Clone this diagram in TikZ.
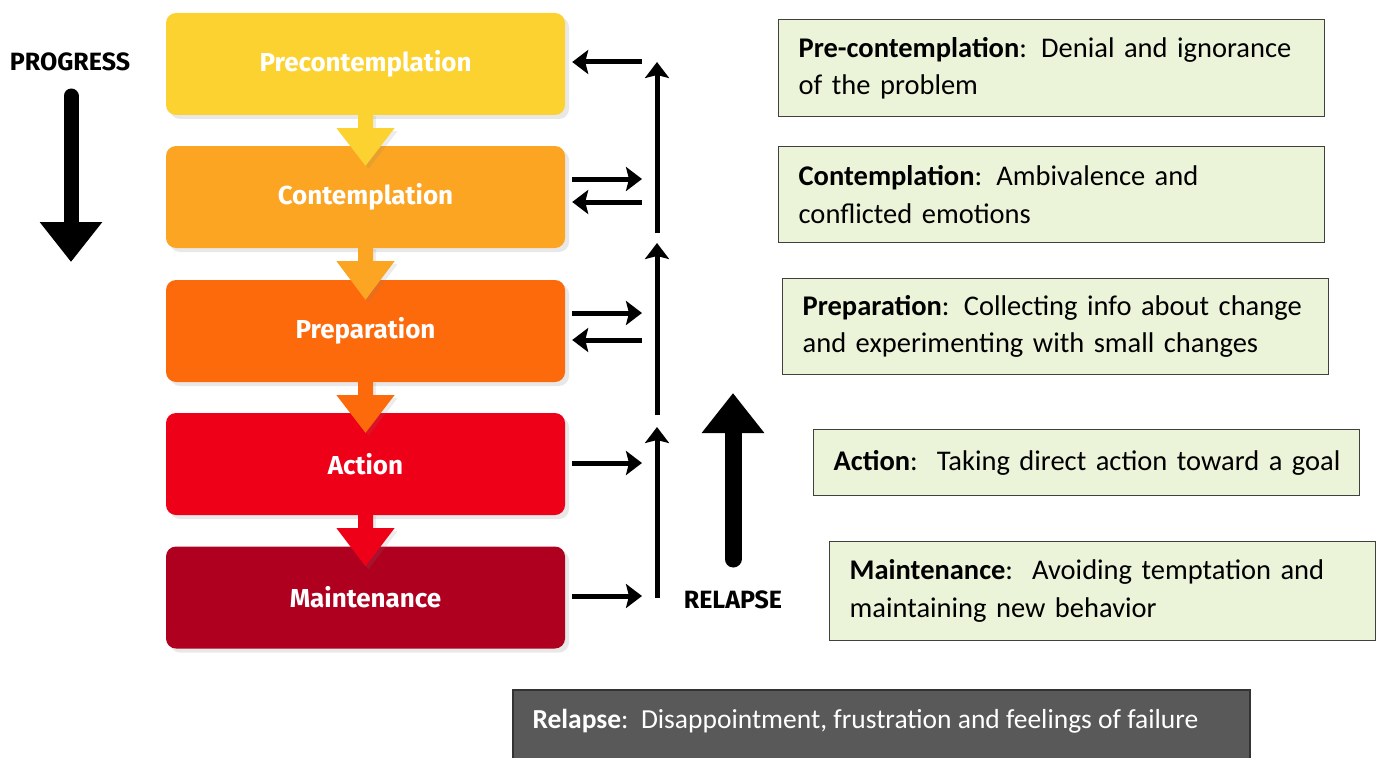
\documentclass[tikz,border=0pt]{standalone}
\usepackage{fontspec}
\setmainfont{Carlito}
\newfontfamily\stagefont{Fira Sans}
\usetikzlibrary{arrows.meta, shadows}
\definecolor{precol}{RGB}{252,210,48}
\definecolor{concol}{RGB}{251,165,35}
\definecolor{prepcol}{RGB}{253,106,12}
\definecolor{actcol}{RGB}{237,0,24}
\definecolor{maincol}{RGB}{175,0,32}
\definecolor{notebg}{RGB}{235,244,216}
\definecolor{notebd}{RGB}{64,64,64}
\definecolor{relbg}{RGB}{89,89,89}

\begin{document}
\begin{tikzpicture}[x = 1pt, y = -1pt, > = {Stealth[length=16pt, width=24pt, inset=3pt]},
	stage/.style = {rounded corners=10pt, minimum width=399pt, minimum height=102pt, text=white,
		font=\stagefont\bfseries\fontsize{26}{30}\selectfont,
		drop shadow={shadow xshift=4pt, shadow yshift=-4pt, opacity=0.18}},
	note/.style = {draw=notebd, fill=notebg, line width=1.3pt, anchor=north west, align=left,
		text width=506pt, inner xsep=20pt, font=\fontsize{28.5}{37.5}\selectfont},
	back/.style = {line width=5pt, shorten <=7pt},
	fat/.style = {line width=#1, line cap=round, -{Triangle[length=40pt, width=60pt]}},
	bigword/.style = {font=\stagefont\bfseries\fontsize{25}{30}\selectfont}]
			\useasboundingbox (0,0) rectangle (1380,757);
			\clip (0,0) rectangle (1380,757);
			
			\node [stage, fill=precol] (pre) at (365.5,64) {Precontemplation};
			\node [stage, fill=concol] (con) at (365.5,197) {Contemplation};
			\node [stage, fill=prepcol] (prep) at (365.5,331) {Preparation};
			\node [stage, fill=actcol] (act) at (365.5,464) {Action};
			\node [stage, fill=maincol] (mnt) at (365.5,597.5) {Maintenance};
			
			\foreach \a/\b/\c in {pre/con/precol, con/prep/concol, prep/act/prepcol, act/mnt/actcol}
			\fill [\c, drop shadow={shadow xshift=3pt, shadow yshift=-3pt, opacity=0.15}]
			([xshift=-7.5pt, yshift=2pt]\a.south) -- ([xshift=-7.5pt, yshift=-13pt]\a.south)
			-- ([xshift=-29pt, yshift=-13pt]\a.south) -- ([yshift=-20pt]\b.north)
			-- ([xshift=29pt, yshift=-13pt]\a.south) -- ([xshift=7.5pt, yshift=-13pt]\a.south)
			-- ([xshift=7.5pt, yshift=2pt]\a.south) -- cycle;
			
			\node [bigword] (prog) at (70,62) {PROGRESS};
			\coordinate (progtop) at (71,96);
			\coordinate (progtip) at (71,262);
			\draw [fat=15pt] (progtop) -- (progtip);
			
			% arrows back to the stages
			\coordinate (h1) at (642,62);
			\coordinate (h2) at (642,179);
			\coordinate (h3) at (642,202);
			\coordinate (h4) at (642,313);
			\coordinate (h5) at (642,340);
			\coordinate (h6) at (642,463);
			\coordinate (h7) at (642,596);
			\draw [back, <-] (pre.east |- h1) -- (h1);
			\draw [back, ->] (con.east |- h2) -- (h2);
			\draw [back, <-] (con.east |- h3) -- (h3);
			\draw [back, ->] (prep.east |- h4) -- (h4);
			\draw [back, <-] (prep.east |- h5) -- (h5);
			\draw [back, ->] (act.east |- h6) -- (h6);
			\draw [back, ->] (mnt.east |- h7) -- (h7);
			
			\coordinate (up1a) at (657,233);
			\coordinate (up1b) at (657,62);
			\coordinate (up2a) at (657,415);
			\coordinate (up2b) at (657,243);
			\coordinate (up3a) at (657,598);
			\coordinate (up3b) at (657,427);
			\draw [line width=5pt, ->] (up1a) -- (up1b);
			\draw [line width=5pt, ->] (up2a) -- (up2b);
			\draw [line width=5pt, ->] (up3a) -- (up3b);
			
			\node [bigword] (rlp) at (733,600) {RELAPSE};
			\coordinate (rlpfoot) at (733,559);
			\coordinate (rlptip) at (733,393);
			\draw [fat=17pt] (rlpfoot) -- (rlptip);
			
			\node [note, minimum height=97pt] (n1) at (778,19)
			{\textbf{Pre-contemplation}: Denial and ignorance\\of the problem};
			\node [note, minimum height=96pt] (n2) at (778,146)
			{\textbf{Contemplation}: Ambivalence and\\conflicted emotions};
			\node [note, minimum height=96pt] (n3) at (782,278)
			{\textbf{Preparation}: Collecting info about change\\and experimenting with small changes};
			\node [note, minimum height=66pt] (n4) at (813,429)
			{\mbox{\textbf{Action}:\ \ Taking direct action toward a goal}};
			\node [note, minimum height=99pt] (n5) at (829,541)
			{\textbf{Maintenance}:\ \ Avoiding temptation and\\maintaining new behavior};
			
			\draw [fill=relbg, draw=black!80, line width=1.3pt] (513,690) rectangle (1250,770);
			\node [anchor=west, text=white, font=\fontsize{27.5}{30}\selectfont] (rel) at (529,721)
			{\textbf{Relapse}:\ \ Disappointment, frustration and feelings of failure};
		\end{tikzpicture}
\end{document}
